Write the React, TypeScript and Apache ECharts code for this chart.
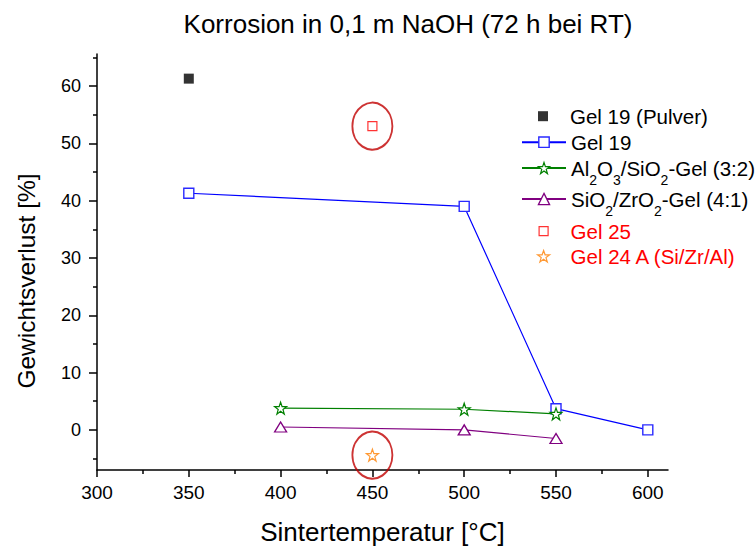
import React, { useEffect, useRef } from 'react';
import * as echarts from 'echarts';

const FONT = '"Liberation Sans", Arial, Helvetica, sans-serif';

const titleText = 'Korrosion in 0,1 m NaOH (72 h bei RT)';
const xName = 'Sintertemperatur [°C]';
const yName = 'Gewichtsverlust [%]';

const xMajorTicks = [300, 350, 400, 450, 500, 550, 600];
const xMinorTicks = [325, 375, 425, 475, 525, 575];
const yMajorTicks = [0, 10, 20, 30, 40, 50, 60];
const yMinorTicks = [-5, 5, 15, 25, 35, 45, 55, 65];

const seriesNames = [
  'Gel 19 (Pulver)',
  'Gel 19',
  'Al2O3/SiO2-Gel (3:2)',
  'SiO2/ZrO2-Gel (4:1)',
  'Gel 25',
  'Gel 24 A (Si/Zr/Al)',
];

const gel19PulverX = [350];
const gel19PulverY = [61.3];
const gel19X = [350, 500, 550, 600];
const gel19Y = [41.3, 39.0, 3.7, 0.0];
const alSiX = [400, 500, 550];
const alSiY = [3.8, 3.6, 2.8];
const siZrX = [400, 500, 550];
const siZrY = [0.5, 0.0, -1.5];
const gel25X = [450];
const gel25Y = [53.0];
const gel24X = [450];
const gel24Y = [-4.4];
const highlightX = [450, 450];
const highlightY = [53.0, -4.4];

const STAR =
  'path://M50,2 L61.8,36.2 L97.6,36.5 L69,58 L79.4,92.3 L50,71.5 L20.6,92.3 L31,58 L2.4,36.5 L38.2,36.2 Z';

const pairs = (xs: number[], ys: number[]) => xs.map((x, i) => [x, ys[i]]);

const richName = (name: string) => {
  if (name === seriesNames[2]) return '{n|Al}{s|2}{n|O}{s|3}{n|/SiO}{s|2}{n|-Gel (3:2)}';
  if (name === seriesNames[3]) return '{n|SiO}{s|2}{n|/ZrO}{s|2}{n|-Gel (4:1)}';
  return name;
};

export default function App() {
  const ref = useRef<HTMLDivElement>(null);

  useEffect(() => {
    document.body.style.margin = '0';
    if (!ref.current) return;
    const chart = echarts.init(ref.current, undefined, { renderer: 'svg' });

    const axisLineStyle = { color: '#000', width: 1.5 };
    const LEG_FS = 20.5;
    // line rows: icon width 44 with line; scatter rows: icon only, text shifted by padding
    const legendRows = [
      { name: seriesNames[0], center: 117, h: 10, color: '#000', line: false, rich: false,
        itemStyle: { color: '#000' } },
      { name: seriesNames[1], center: 143, h: 13, color: '#000', line: true, rich: false,
        itemStyle: { color: '#fff', borderColor: '#2a2aff', borderWidth: 1.4 } },
      { name: seriesNames[2], center: 167, h: 14, color: '#000', line: true, rich: true,
        itemStyle: { color: '#fff', borderColor: '#008000', borderWidth: 1.2 } },
      { name: seriesNames[3], center: 198, h: 14, color: '#000', line: true, rich: true,
        itemStyle: { color: '#fff', borderColor: '#800080', borderWidth: 1.3 } },
      { name: seriesNames[4], center: 232, h: 9, color: '#ff0000', line: false, rich: false,
        itemStyle: { color: '#fff', borderColor: '#ff0000', borderWidth: 1.2 } },
      { name: seriesNames[5], center: 257, h: 12, color: '#ff0000', line: false, rich: false,
        itemStyle: { color: '#fff', borderColor: '#ff8000', borderWidth: 1.2 } },
    ];

    const option: any = {
      animation: false,
      backgroundColor: '#fff',
      title: {
        text: titleText,
        left: 408,
        top: 23.5,
        padding: 0,
        textAlign: 'center',
        textVerticalAlign: 'middle',
        textStyle: { fontSize: 26, fontWeight: 'normal', color: '#000', fontFamily: FONT },
      },
      grid: { left: 97, right: 87, top: 54, bottom: 76, containLabel: false },
      graphic: [
        {
          type: 'text',
          x: 26,
          y: 281,
          rotation: Math.PI / 2,
          silent: true,
          style: {
            text: yName,
            fontSize: 24.5,
            fontFamily: FONT,
            fill: '#000',
            align: 'center',
            verticalAlign: 'middle',
          },
        },
      ],
      legend: legendRows.map((r) => {
        const itemWidth = r.line ? 44 : r.h;
        const left = r.line ? 521 : 543 - r.h / 2;
        const textPad = r.line ? 0 : 570 - (left + itemWidth + 5);
        const top = r.rich ? r.center - 17.5 : r.center - 11.3;
        return {
          data: [{ name: r.name, textStyle: { color: r.color }, itemStyle: r.itemStyle }],
          left,
          top,
          padding: 0,
          itemWidth,
          itemHeight: r.h,
          itemGap: 0,
          selectedMode: false,
          formatter: richName,
          textStyle: {
            fontSize: LEG_FS,
            fontFamily: FONT,
            color: r.color,
            padding: [0, 0, 0, textPad],
            rich: {
              n: { fontSize: LEG_FS, fontFamily: FONT },
              s: { fontSize: 14, fontFamily: FONT, padding: [23, 0, 0, 0], lineHeight: 14 },
            },
          },
        };
      }),
      xAxis: [
        {
          type: 'value',
          min: 300,
          max: 611,
          position: 'bottom',
          axisLine: { show: true, onZero: false, lineStyle: axisLineStyle },
          axisTick: { show: true, customValues: xMajorTicks, length: 7, lineStyle: axisLineStyle },
          axisLabel: {
            show: true,
            customValues: xMajorTicks,
            fontSize: 19,
            color: '#000',
            fontFamily: FONT,
            margin: 13,
          },
          splitLine: { show: false },
          name: xName,
          nameLocation: 'middle',
          nameGap: 49,
          nameTextStyle: { fontSize: 26, color: '#000', fontFamily: FONT },
        },
        {
          type: 'value',
          min: 300,
          max: 611,
          position: 'bottom',
          axisLine: { show: false, onZero: false },
          axisTick: { show: true, customValues: xMinorTicks, length: 4, lineStyle: axisLineStyle },
          axisLabel: { show: false },
          splitLine: { show: false },
        },
      ],
      yAxis: [
        {
          type: 'value',
          min: -7,
          max: 65.6,
          position: 'left',
          axisLine: { show: true, onZero: false, lineStyle: axisLineStyle },
          axisTick: { show: true, customValues: yMajorTicks, length: 8, lineStyle: axisLineStyle },
          axisLabel: {
            show: true,
            customValues: yMajorTicks,
            fontSize: 18,
            color: '#000',
            fontFamily: FONT,
            margin: 16,
          },
          splitLine: { show: false },
        },
        {
          type: 'value',
          min: -7,
          max: 65.6,
          position: 'left',
          axisLine: { show: false, onZero: false },
          axisTick: { show: true, customValues: yMinorTicks, length: 4, lineStyle: axisLineStyle },
          axisLabel: { show: false },
          splitLine: { show: false },
        },
      ],
      series: [
        {
          name: 'highlight',
          type: 'scatter',
          data: pairs(highlightX, highlightY),
          symbol: 'circle',
          symbolSize: [40, 47],
          clip: false,
          silent: true,
          z: 1,
          itemStyle: { color: 'rgba(0,0,0,0)', borderColor: '#c00000', borderWidth: 2 },
        },
        {
          name: seriesNames[0],
          type: 'scatter',
          data: pairs(gel19PulverX, gel19PulverY),
          symbol: 'rect',
          symbolSize: 10,
          z: 3,
          itemStyle: legendRows[0].itemStyle,
        },
        {
          name: seriesNames[1],
          type: 'line',
          data: pairs(gel19X, gel19Y),
          symbol: 'rect',
          symbolSize: 10,
          showSymbol: true,
          z: 3,
          lineStyle: { color: '#0000ff', width: 1.2 },
          itemStyle: legendRows[1].itemStyle,
        },
        {
          name: seriesNames[2],
          type: 'line',
          data: pairs(alSiX, alSiY),
          symbol: STAR,
          symbolSize: 12,
          showSymbol: true,
          z: 4,
          lineStyle: { color: '#008000', width: 1.2 },
          itemStyle: legendRows[2].itemStyle,
        },
        {
          name: seriesNames[3],
          type: 'line',
          data: pairs(siZrX, siZrY),
          symbol: 'triangle',
          symbolSize: [12, 10],
          showSymbol: true,
          z: 3,
          lineStyle: { color: '#800080', width: 1.2 },
          itemStyle: legendRows[3].itemStyle,
        },
        {
          name: seriesNames[4],
          type: 'scatter',
          data: pairs(gel25X, gel25Y),
          symbol: 'rect',
          symbolSize: 9,
          z: 3,
          itemStyle: legendRows[4].itemStyle,
        },
        {
          name: seriesNames[5],
          type: 'scatter',
          data: pairs(gel24X, gel24Y),
          symbol: STAR,
          symbolSize: 12,
          z: 3,
          itemStyle: legendRows[5].itemStyle,
        },
      ],
    };

    chart.setOption(option);
    return () => chart.dispose();
  }, []);

  return <div ref={ref} style={{ width: 755, height: 550 }} />;
}
